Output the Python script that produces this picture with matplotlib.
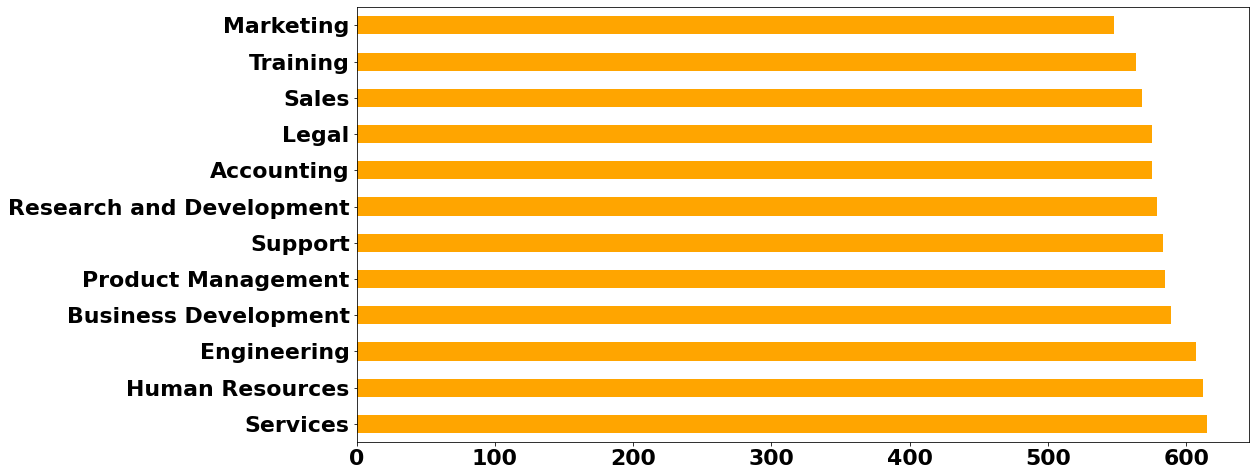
import matplotlib
matplotlib.use("Agg")
import matplotlib.pyplot as plt

categories = ["Services", "Human Resources", "Engineering", "Business Development",
              "Product Management", "Support", "Research and Development",
              "Accounting", "Legal", "Sales", "Training", "Marketing"]
values = [615, 612, 607, 589, 585, 583, 579, 575, 575, 568, 564, 548]

fig = plt.figure(figsize=(1255/72, 476/72), dpi=72)
ax = fig.add_axes([0.2842, 0.0714, 0.9955-0.2842, 0.9847-0.0714])
ax.barh(range(len(categories)), values, height=0.5, color="orange")
ax.set_yticks(range(len(categories)))
ax.set_yticklabels(categories)
ax.set_ylim(-0.5, len(categories) - 0.5)
ax.set_xticks([0, 100, 200, 300, 400, 500, 600])
for lab in ax.get_xticklabels() + ax.get_yticklabels():
    lab.set_fontsize(22)
    lab.set_fontweight("bold")
fig.savefig("out.png", dpi=72)
